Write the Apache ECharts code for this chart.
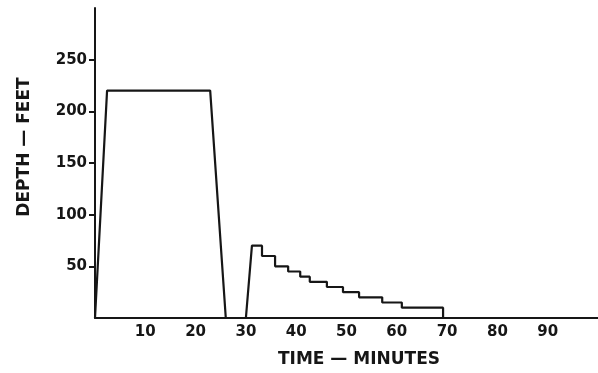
<!DOCTYPE html>
<html>
<head>
<meta charset="utf-8">
<script src="https://cdn.jsdelivr.net/npm/echarts@6/dist/echarts.min.js"></script>
<style>
  html, body { margin: 0; padding: 0; background: #fff; }
  #chart { width: 598px; height: 373px; }
</style>
</head>
<body>
<div id="chart"></div>
<script>
// dive profile: time (min) and depth (ft)
const timeMin = [0, 2.4, 22.9, 26, 30, 31.2, 33.2, 33.2, 35.8, 35.8, 38.4, 38.4, 40.8, 40.8, 42.7, 42.7,
  46.1, 46.1, 49.3, 49.3, 52.5, 52.5, 57.1, 57.1, 61, 61, 69.2, 69.2];
const depthFt = [0, 220, 220, 0, 0, 70, 70, 60, 60, 50, 50, 45, 45, 40, 40, 35,
  35, 30, 30, 25, 25, 20, 20, 15, 15, 10, 10, 0];
const xTicks = [10, 20, 30, 40, 50, 60, 70, 80, 90];
const yTicks = [50, 100, 150, 200, 250];

const ink = "#161616";
const font = "DejaVu Sans";

const chart = echarts.init(document.getElementById("chart"));
chart.setOption({
  backgroundColor: "#fff",
  animation: false,
  grid: { left: 95, right: 0, top: 8, bottom: 55 },
  xAxis: {
    type: "value",
    min: 0,
    max: 100,
    axisLine: { lineStyle: { color: ink, width: 2 } },
    axisTick: { show: false },
    splitLine: { show: false },
    axisLabel: {
      customValues: xTicks,
      color: ink,
      fontFamily: font,
      fontWeight: "bold",
      fontSize: 15,
      margin: 7,
    },
  },
  yAxis: {
    type: "value",
    min: 0,
    max: 300,
    axisLine: { show: true, lineStyle: { color: ink, width: 2 } },
    axisTick: {
      show: true,
      customValues: yTicks,
      length: 6,
      lineStyle: { color: ink, width: 2 },
    },
    splitLine: { show: false },
    axisLabel: {
      customValues: yTicks,
      color: ink,
      fontFamily: font,
      fontWeight: "bold",
      fontSize: 15,
      margin: 8,
    },
  },
  graphic: [
    {
      type: "text",
      x: 25,
      y: 147,
      rotation: Math.PI / 2,
      style: {
        text: "DEPTH — FEET",
        fill: ink,
        font: "bold 17px DejaVu Sans",
        align: "center",
        verticalAlign: "middle",
      },
    },
    {
      type: "text",
      x: 359,
      y: 360,
      style: {
        text: "TIME — MINUTES",
        fill: ink,
        font: "bold 17px DejaVu Sans",
        align: "center",
        verticalAlign: "middle",
      },
    },
  ],
  series: [
    {
      type: "line",
      data: timeMin.map((t, i) => [t, depthFt[i]]),
      showSymbol: false,
      lineStyle: { color: ink, width: 2.2 },
    },
  ],
});
</script>
</body>
</html>
